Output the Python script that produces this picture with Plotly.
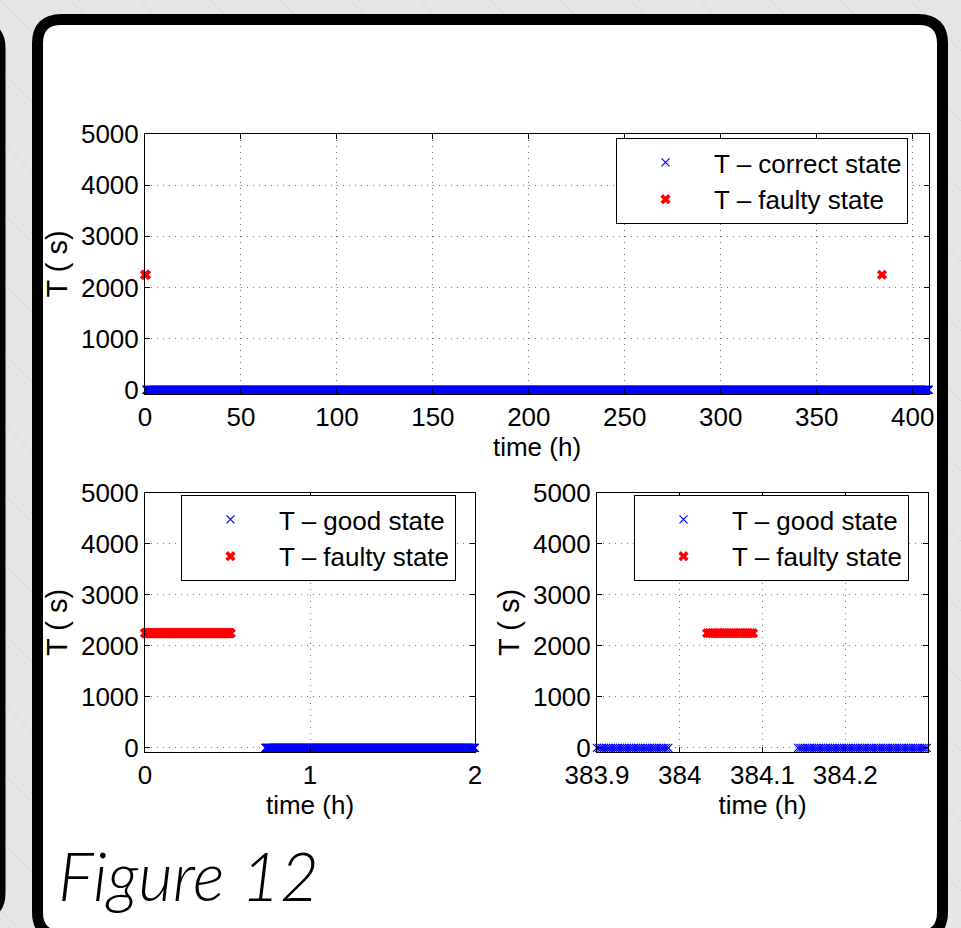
import numpy as np
import plotly.graph_objects as go

W, H = 961, 928
FONT = "Liberation Sans, Arial, Helvetica, sans-serif"

# ---------------- data ----------------
T_GOOD = 0          # s
T_FAULTY = 2250     # s
good_start = [0.73, 384.143]      # h
good_end = [383.987, 408.5]       # h
faulty_start = [0.0, 384.033]     # h
faulty_end = [0.52, 384.091]      # h
overview_step = 0.25              # h, sampling shown in the overview
detail_step = 10 / 3600           # h, sampling shown in the zoomed views

top_range = [0, 408.5]
left_range = [0, 2]
right_range = [383.9, 384.3]
y_range = [-80, 5000]
top_xticks = [0, 50, 100, 150, 200, 250, 300, 350, 400]
left_xticks = [0, 1, 2]
right_xticks = [383.9, 384.0, 384.1, 384.2]
right_xticklabels = ["383.9", "384", "384.1", "384.2"]
yticks = [0, 1000, 2000, 3000, 4000, 5000]


def sample(starts, ends, step, lo, hi):
    parts = []
    for s, e in zip(starts, ends):
        s2, e2 = max(s, lo), min(e, hi)
        if s2 > e2:
            continue
        parts.append(np.arange(s2, e2 + 1e-9, step))
    return np.concatenate(parts) if parts else np.array([])


def px(x):
    return x / W


def py(y):
    return 1 - y / H


BLUE = dict(symbol="x-thin", size=8, color="#0000ff", line=dict(color="#0000ff", width=1.2))
RED = dict(symbol="x", size=9, color="#ff0000", line=dict(width=0))

fig = go.Figure()

panels = [
    ("x", "y", "legend", top_range, overview_step, "T \u2013 correct state"),
    ("x2", "y2", "legend2", left_range, detail_step, "T \u2013 good state"),
    ("x3", "y3", "legend3", right_range, detail_step, "T \u2013 good state"),
]
for xa, ya, lg, rng, step, good_name in panels:
    gx = sample(good_start, good_end, step, rng[0], rng[1])
    fx = sample(faulty_start, faulty_end, step, rng[0], rng[1])
    fig.add_trace(go.Scatter(x=gx, y=np.full(len(gx), T_GOOD), mode="markers",
                             marker=BLUE, name=good_name, xaxis=xa, yaxis=ya,
                             legend=lg, cliponaxis=False))
    fig.add_trace(go.Scatter(x=fx, y=np.full(len(fx), T_FAULTY), mode="markers",
                             marker=RED, name="T \u2013 faulty state", xaxis=xa, yaxis=ya,
                             legend=lg, cliponaxis=False))


def axis(domain, rng, **kw):
    d = dict(domain=domain, range=rng, showline=True, mirror="ticks", linecolor="black",
             linewidth=1, ticks="inside", ticklen=5, tickcolor="black", showgrid=True,
             gridcolor="#777777", griddash="1px,5px", gridwidth=1, zeroline=False,
             automargin=False, tickfont=dict(size=26, color="black", family=FONT))
    d.update(kw)
    return d


xt = dict(text="time (h)", standoff=0, font=dict(size=26, color="black", family=FONT))
yt = dict(text="T ( s)", standoff=4, font=dict(size=29, color="black", family=FONT))

top_xd = [px(145), px(929)]
top_yd = [py(394), py(134)]
bl_xd = [px(145), px(475)]
br_xd = [px(597), px(928)]
b_yd = [py(752), py(493)]

layout = dict(
    width=W, height=H, margin=dict(l=0, r=0, t=0, b=0, pad=0, autoexpand=False),
    paper_bgcolor="#e6e6e6", plot_bgcolor="rgba(0,0,0,0)",
    font=dict(family=FONT, color="black"),
    xaxis=axis(top_xd, top_range, anchor="y", tickvals=top_xticks, title=xt),
    yaxis=axis(top_yd, y_range, anchor="x", tickvals=yticks, title=yt),
    xaxis2=axis(bl_xd, left_range, anchor="y2", tickvals=left_xticks, title=xt),
    yaxis2=axis(b_yd, y_range, anchor="x2", tickvals=yticks, title=yt),
    xaxis3=axis(br_xd, right_range, anchor="y3", tickvals=right_xticks,
                ticktext=right_xticklabels, title=xt),
    yaxis3=axis(b_yd, y_range, anchor="x3", tickvals=yticks, title=yt),
)


def leg(x0, y0):
    return dict(x=px(x0), y=py(y0), xanchor="left", yanchor="top", bgcolor="white",
                bordercolor="black", borderwidth=1, itemwidth=87, tracegroupgap=0,
                font=dict(size=26, family=FONT, color="black"))


layout["legend"] = leg(616, 138)
layout["legend2"] = leg(181, 495)
layout["legend3"] = leg(634, 495)

# ---------------- slide decoration ----------------
shapes = []
for k in range(-14, 16):
    x0 = k * 70
    shapes.append(dict(type="line", xref="paper", yref="paper", layer="below",
                       x0=px(x0), y0=py(0), x1=px(x0 + H), y1=py(H),
                       line=dict(color="#d7d7d7", width=1)))


def rrect(l, t, r, b, rad):
    return (f"M {px(l + rad)},{py(t)} L {px(r - rad)},{py(t)} Q {px(r)},{py(t)} {px(r)},{py(t + rad)} "
            f"L {px(r)},{py(b - rad)} Q {px(r)},{py(b)} {px(r - rad)},{py(b)} "
            f"L {px(l + rad)},{py(b)} Q {px(l)},{py(b)} {px(l)},{py(b - rad)} "
            f"L {px(l)},{py(t + rad)} Q {px(l)},{py(t)} {px(l + rad)},{py(t)} Z")


# previous slide's frame edge (left)
shapes.append(dict(type="path", xref="paper", yref="paper", layer="below",
                   path=rrect(-400, 26, 0, 915, 22), fillcolor="white",
                   line=dict(color="black", width=11)))
# main slide frame
shapes.append(dict(type="path", xref="paper", yref="paper", layer="below",
                   path=rrect(37.5, 19.5, 942.5, 936, 24), fillcolor="white",
                   line=dict(color="black", width=11)))
layout["shapes"] = shapes

layout["annotations"] = [dict(
    text="Figure 12", xref="paper", yref="paper", x=px(56), y=py(875),
    xanchor="left", yanchor="middle", showarrow=False,
    font=dict(family="Lato, Roboto, sans-serif", size=67, color="black",
              style="italic", weight=300))]

fig.update_layout(**layout)
fig.write_html("out.html")
